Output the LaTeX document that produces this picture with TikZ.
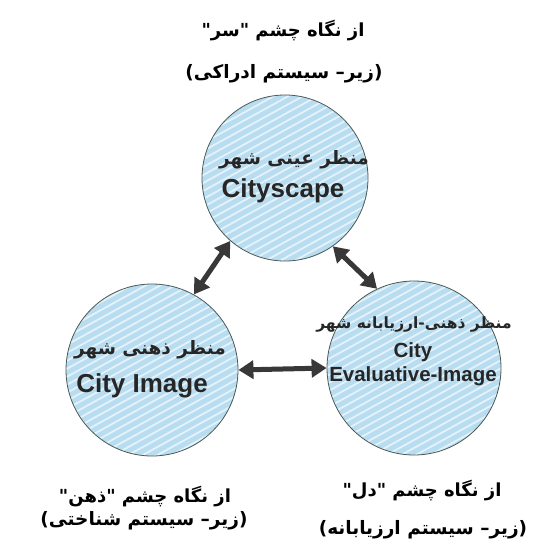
\documentclass[tikz,border=0pt]{standalone}
\usepackage{fontspec}
\setmainfont{Liberation Sans}
\newfontfamily\fa[Script=Arabic]{DejaVu Sans}
\TeXXeTstate=1
\usetikzlibrary{arrows.meta}
\definecolor{cblue}{HTML}{B8DCF0}
\definecolor{adark}{HTML}{383838}
\definecolor{cedge}{HTML}{4A5A55}
\begin{document}
\begin{tikzpicture}[x=1pt,y=-1pt,
  circ/.style={circle, draw=cedge, line width=0.8pt, fill=cblue, minimum size=#1, inner sep=0pt,
    path picture={\foreach \k in {-30,...,30}{\draw[white,line width=1.8pt,opacity=0.65]
      ([shift={(-160,{80+\k*8})}]path picture bounding box.center) -- ++(320,-176);}}},
  arr/.style={line width=5pt, draw=adark,
    {Triangle[length=15pt,width=18pt]}-{Triangle[length=15pt,width=18pt]}},
  head/.style={font=\fa\bfseries\fontsize{18}{22}\selectfont, text=black, align=center},
  sub/.style={font=\fa\bfseries\fontsize{18.5}{22}\selectfont, text=black, align=center},
  inen/.style={font=\bfseries\fontsize{26}{28}\selectfont, text=black!85},
  infa/.style={font=\fa\bfseries\fontsize{18.5}{20}\selectfont, text=black!85},
  ]
\useasboundingbox[fill=white] (0,0) rectangle (546,547);

% circles
\node[circ=166pt] (top) at (285,178) {};
\node[circ=172pt] (left) at (152,370) {};
\node[circ=174pt] (right) at (414,368) {};

% texts in circles
\node[infa] (t1) at (294,160) {\beginR منظر عینی شهر\endR};
\node[inen] (t2) at (283,191) {Cityscape};
\node[infa] (l1) at (150,350) {\beginR منظر ذهنی شهر\endR};
\node[inen] (l2) at (142,386) {City Image};
\node[infa,font=\fa\bfseries\fontsize{15.5}{18}\selectfont] (r1) at (414,325) {\beginR منظر ذهنی-ارزیابانه شهر\endR};
\node[inen,font=\bfseries\fontsize{20.5}{22}\selectfont] (r2) at (413,352) {City};
\node[inen,font=\bfseries\fontsize{20.5}{22}\selectfont] (r3) at (413,376) {Evaluative-Image};

% headings
\node[head] (h1) at (283,31) {\beginR از نگاه چشم "سر"\endR};
\node[sub] (h2) at (284,74) {\beginR (زیر– سیستم ادراکی)\endR};
\node[head] (b1) at (145,497) {\beginR از نگاه چشم "ذهن"\endR};
\node[sub] (b2) at (144,521) {\beginR (زیر– سیستم شناختی)\endR};
\node[head] (c1) at (422,491) {\beginR از نگاه چشم "دل"\endR};
\node[sub] (c2) at (423,530) {\beginR (زیر– سیستم ارزیابانه)\endR};

% arrows
\draw[arr] (left.61) -- (top.229);
\draw[arr] (top.305) -- (right.115);
\draw[arr] (left.east) -- (right.west);
\end{tikzpicture}
\end{document}
